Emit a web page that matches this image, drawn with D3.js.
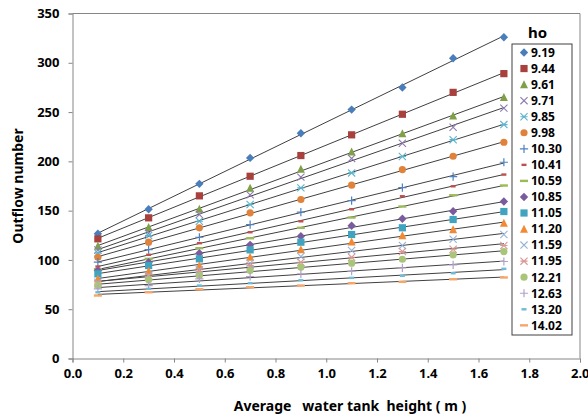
<!DOCTYPE html>
<html>
<head>
<meta charset="utf-8">
<script src="https://cdn.jsdelivr.net/npm/d3@7"></script>
<style>
  body { margin: 0; background: #fff; }
  text { font-family: "Noto Sans", "Liberation Sans", sans-serif; font-weight: bold; fill: #000; }
</style>
</head>
<body>
<script>
let W = 588, H = 417;

// x positions of the measurements (m)
let heights = [0.1, 0.3, 0.5, 0.7, 0.9, 1.1, 1.3, 1.5, 1.7];
let hoLabels = ["9.19", "9.44", "9.61", "9.71", "9.85", "9.98", "10.30", "10.41", "10.59",
                "10.85", "11.05", "11.20", "11.59", "11.95", "12.21", "12.63", "13.20", "14.02"];
let xTicks = [0, 0.2, 0.4, 0.6, 0.8, 1.0, 1.2, 1.4, 1.6, 1.8, 2.0];
let yTicks = [0, 50, 100, 150, 200, 250, 300, 350];

// outflow number per ho
let ho919  = [126.5, 151.4, 177.2, 203.5, 228.5, 252.5, 275.0, 304.6, 325.9];
let ho944  = [121.4, 142.7, 165.0, 184.9, 205.9, 226.9, 247.8, 270.0, 289.0];
let ho961  = [113.9, 132.9, 151.4, 172.7, 192.0, 209.6, 228.2, 246.0, 265.0];
let ho971  = [110.0, 127.0, 146.0, 166.0, 184.0, 203.0, 218.4, 234.6, 254.0];
let ho985  = [107.0, 124.7, 139.2, 156.2, 173.1, 188.3, 204.9, 222.0, 237.3];
let ho998  = [102.7, 118.0, 132.6, 147.8, 161.3, 175.8, 191.7, 205.2, 219.4];
let ho1030 = [97.7, 110.5, 123.0, 135.9, 148.4, 160.2, 173.4, 184.6, 199.1];
let ho1041 = [93.3, 105.2, 117.0, 128.1, 139.2, 151.4, 164.6, 174.7, 186.6];
let ho1059 = [90.6, 101.1, 111.9, 122.0, 132.6, 143.0, 154.2, 165.6, 175.5];
let ho1085 = [89.2, 97.7, 106.8, 115.3, 124.0, 134.6, 141.7, 149.4, 159.2];
let ho1105 = [85.9, 94.3, 101.1, 110.2, 118.0, 125.8, 132.6, 141.0, 149.1];
let ho1120 = [80.8, 88.5, 94.3, 102.7, 110.5, 118.4, 124.7, 130.8, 137.2];
let ho1159 = [77.4, 84.2, 90.0, 96.7, 103.4, 109.5, 114.6, 121.0, 125.8];
let ho1195 = [75.8, 83.2, 88.5, 94.3, 97.7, 102.7, 108.5, 110.9, 114.6];
let ho1221 = [74.0, 79.8, 84.2, 89.2, 92.6, 96.7, 100.7, 105.2, 108.5];
let ho1263 = [70.7, 74.0, 80.8, 83.2, 85.9, 88.5, 92.0, 95.0, 98.4];
let ho1320 = [67.2, 70.7, 74.0, 76.4, 79.4, 81.8, 83.9, 86.5, 91.0];
let ho1402 = [63.9, 67.2, 70.3, 72.3, 74.0, 76.4, 77.8, 80.4, 82.2];

let seriesValues = [ho919, ho944, ho961, ho971, ho985, ho998, ho1030, ho1041, ho1059,
                    ho1085, ho1105, ho1120, ho1159, ho1195, ho1221, ho1263, ho1320, ho1402];

let markers = [
  { shape: "diamond",  color: "#4a7ebb" },
  { shape: "square",   color: "#a8403d" },
  { shape: "triangle", color: "#7f9f48" },
  { shape: "times",    color: "#8e7bb0" },
  { shape: "asterisk", color: "#5db3cc" },
  { shape: "circle",   color: "#e0823a" },
  { shape: "plus",     color: "#4f81bd" },
  { shape: "dash",     color: "#c0504d" },
  { shape: "longdash", color: "#9bbb59" },
  { shape: "diamond",  color: "#7a5c9e" },
  { shape: "square",   color: "#40a3bf" },
  { shape: "triangle", color: "#f28a35" },
  { shape: "times",    color: "#95b3d7" },
  { shape: "asterisk", color: "#d99694" },
  { shape: "circle",   color: "#a9c57a" },
  { shape: "plus",     color: "#b3a2c7" },
  { shape: "dash",     color: "#6fbcd8" },
  { shape: "longdash", color: "#f7a66a" }
];

let svg = d3.select("body").append("svg")
  .attr("width", W).attr("height", H);

let xScale = d3.scaleLinear().domain([0, 2]).range([72.5, 580]);
let yScale = d3.scaleLinear().domain([0, 350]).range([358.5, 13.5]);

// frame: top and right edges
svg.append("path")
  .attr("d", "M" + xScale(0) + "," + yScale(350) + "H" + xScale(2) + "V" + yScale(0))
  .attr("fill", "none").attr("stroke", "#868686");

let xAxis = svg.append("g")
  .attr("transform", "translate(0," + yScale(0) + ")")
  .call(d3.axisBottom(xScale).tickValues(xTicks).tickFormat(d3.format(".1f")).tickSizeOuter(0).tickSize(4).tickPadding(6));
let yAxis = svg.append("g")
  .attr("transform", "translate(" + xScale(0) + ",0)")
  .call(d3.axisLeft(yScale).tickValues(yTicks).tickSizeOuter(0).tickSize(4).tickPadding(9));
[xAxis, yAxis].forEach(a => {
  a.select(".domain").attr("stroke", "#868686");
  a.selectAll(".tick line").attr("stroke", "#868686");
  a.selectAll(".tick text").style("font-size", "13px").style("font-family", "Noto Sans").style("font-weight", "bold");
});
// last x label sits against the right edge, as in the original
xAxis.selectAll(".tick text").filter(d => d === 2).attr("text-anchor", "end").attr("dx", "9px");

svg.append("text")
  .text("Outflow number")
  .attr("transform", "translate(23," + 186 + ") rotate(-90)")
  .attr("text-anchor", "middle")
  .style("font-size", "14px");
svg.append("text")
  .text("Average\u00a0\u00a0 water tank\u00a0 height ( m )")
  .attr("x", 350).attr("y", 411)
  .attr("text-anchor", "middle")
  .style("font-size", "14px");

// marker drawing
let drawMarker = (g, shape, color, cx, cy) => {
  let s = 3.6;
  if (shape === "diamond") {
    g.append("path").attr("d", `M${cx},${cy - s - 0.6}L${cx + s + 0.6},${cy}L${cx},${cy + s + 0.6}L${cx - s - 0.6},${cy}Z`).attr("fill", color);
  } else if (shape === "square") {
    g.append("rect").attr("x", cx - s).attr("y", cy - s).attr("width", 2 * s).attr("height", 2 * s).attr("fill", color);
  } else if (shape === "triangle") {
    g.append("path").attr("d", `M${cx},${cy - s - 0.8}L${cx + s + 0.4},${cy + s}L${cx - s - 0.4},${cy + s}Z`).attr("fill", color);
  } else if (shape === "circle") {
    g.append("circle").attr("cx", cx).attr("cy", cy).attr("r", s).attr("fill", color);
  } else if (shape === "times") {
    g.append("path").attr("d", `M${cx - s},${cy - s}L${cx + s},${cy + s}M${cx - s},${cy + s}L${cx + s},${cy - s}`)
      .attr("stroke", color).attr("stroke-width", 1.1).attr("fill", "none");
  } else if (shape === "asterisk") {
    g.append("path").attr("d", `M${cx - s},${cy - s}L${cx + s},${cy + s}M${cx - s},${cy + s}L${cx + s},${cy - s}M${cx - s},${cy}L${cx + s},${cy}`)
      .attr("stroke", color).attr("stroke-width", 1.1).attr("fill", "none");
  } else if (shape === "plus") {
    g.append("path").attr("d", `M${cx - s - 0.5},${cy}L${cx + s + 0.5},${cy}M${cx},${cy - s - 0.5}L${cx},${cy + s + 0.5}`)
      .attr("stroke", color).attr("stroke-width", 1.2).attr("fill", "none");
  } else if (shape === "dash") {
    g.append("rect").attr("x", cx - 2.5).attr("y", cy - 1.2).attr("width", 5).attr("height", 2.4).attr("fill", color);
  } else if (shape === "longdash") {
    g.append("rect").attr("x", cx - 4).attr("y", cy - 1.2).attr("width", 8).attr("height", 2.4).attr("fill", color);
  }
};

// linear trend line per series
let fit = (xs, ys) => {
  let mx = d3.mean(xs), my = d3.mean(ys);
  let b = d3.sum(xs, (x, i) => (x - mx) * (ys[i] - my)) / d3.sum(xs, x => (x - mx) * (x - mx));
  return x => my + b * (x - mx);
};

let plot = svg.append("g");
let markLayer = svg.append("g");
seriesValues.forEach((vals, k) => {
  let f = fit(heights, vals);
  let x0 = heights[0], x1 = heights[heights.length - 1];
  plot.append("line")
    .attr("x1", xScale(x0)).attr("y1", yScale(f(x0)))
    .attr("x2", xScale(x1)).attr("y2", yScale(f(x1)))
    .attr("stroke", "#404040").attr("stroke-width", 1);
  vals.forEach((v, i) => {
    drawMarker(markLayer, markers[k].shape, markers[k].color, xScale(heights[i]), yScale(v));
  });
});

// legend
let legend = svg.append("g");
legend.append("rect")
  .attr("x", 512).attr("y", 44).attr("width", 60).attr("height", 291)
  .attr("fill", "#fff").attr("stroke", "#404040");
svg.append("text").text("ho")
  .attr("x", 528).attr("y", 38)
  .style("font-size", "15px");
hoLabels.forEach((lab, k) => {
  let cy = 52.5 + k * 16.05;
  drawMarker(legend, markers[k].shape, markers[k].color, 524, cy);
  legend.append("text").text(lab)
    .attr("x", 531).attr("y", cy + 4.3)
    .style("font-size", "12px");
});
</script>
</body>
</html>
